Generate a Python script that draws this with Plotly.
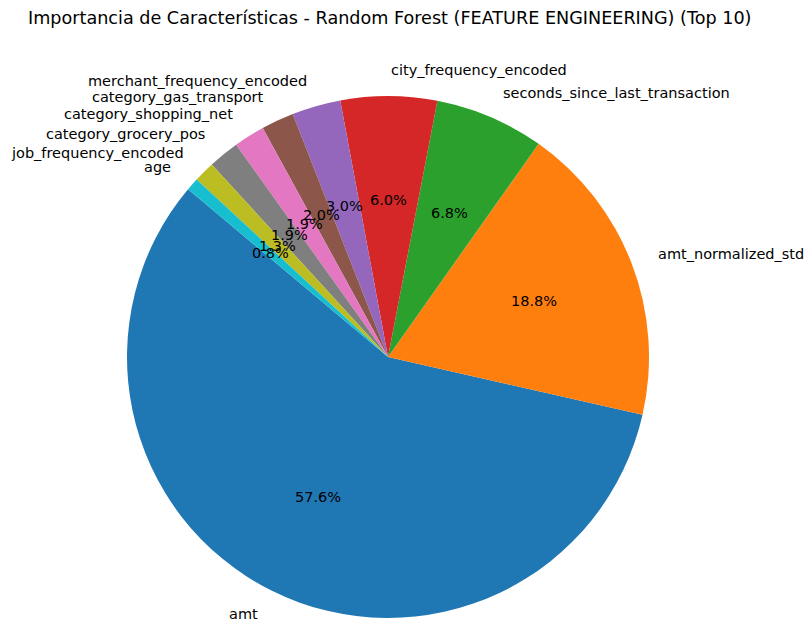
import math
import plotly.graph_objects as go

# Top-10 feature importances (percent) from the Random Forest model
features = [
    "amt",
    "amt_normalized_std",
    "seconds_since_last_transaction",
    "city_frequency_encoded",
    "merchant_frequency_encoded",
    "category_gas_transport",
    "category_shopping_net",
    "category_grocery_pos",
    "job_frequency_encoded",
    "age",
]
importance = [57.56, 18.76, 6.76, 5.96, 3.02, 2.02, 1.92, 1.91, 1.30, 0.79]
colors = ["#1f77b4", "#ff7f0e", "#2ca02c", "#d62728", "#9467bd",
          "#8c564b", "#e377c2", "#7f7f7f", "#bcbd22", "#17becf"]

W, H = 805, 624
CX, CY, R = 388, 357, 261          # pie centre and radius in pixels (top-left origin)
START = 140                        # first slice starts at 140 deg, counter-clockwise
FONT = "DejaVu Sans"
LABEL_SIZE = 14.5
TITLE_SIZE = 17.6

total = sum(importance)
# plotly's counter-clockwise mode anchors the *end* of the first slice at `rotation`
first_end = START + 360 * importance[0] / total
rotation = 90 - first_end

fig = go.Figure(go.Pie(
    labels=features,
    values=importance,
    sort=False,
    direction="counterclockwise",
    rotation=rotation,
    marker=dict(colors=colors, line=dict(width=0)),
    textinfo="none",
    hoverinfo="label+percent",
    domain=dict(x=[(CX - R) / W, (CX + R) / W],
                y=[(H - CY - R) / H, (H - CY + R) / H]),
    showlegend=False,
))

# Feature names outside the pie and percentages inside each slice
cum = 0.0
annotations = []
for name, v in zip(features, importance):
    t1 = START + 360 * cum / total
    cum += v
    t2 = START + 360 * cum / total
    mid = math.radians((t1 + t2) / 2)
    c, s = math.cos(mid), math.sin(mid)
    lx = CX + 1.1 * R * c
    ly = (H - CY) + 1.1 * R * s
    annotations.append(dict(
        x=lx / W, y=ly / H, xref="paper", yref="paper",
        text=name, showarrow=False,
        xanchor="left" if c > 0 else "right", yanchor="middle",
        font=dict(family=FONT, size=LABEL_SIZE, color="black"),
    ))
    px_ = CX + 0.6 * R * c
    py_ = (H - CY) + 0.6 * R * s
    annotations.append(dict(
        x=px_ / W, y=py_ / H, xref="paper", yref="paper",
        text=f"{100 * v / total:.1f}%", showarrow=False,
        xanchor="center", yanchor="middle",
        font=dict(family=FONT, size=LABEL_SIZE, color="black"),
    ))

annotations.append(dict(
    x=389 / W, y=(H - 18) / H, xref="paper", yref="paper",
    text="Importancia de Características - Random Forest (FEATURE ENGINEERING) (Top 10)",
    showarrow=False, xanchor="center", yanchor="middle",
    font=dict(family=FONT, size=TITLE_SIZE, color="black"),
))

fig.update_layout(
    width=W, height=H,
    margin=dict(l=0, r=0, t=0, b=0),
    paper_bgcolor="white",
    plot_bgcolor="white",
    annotations=annotations,
)

fig.write_html("out.html")
